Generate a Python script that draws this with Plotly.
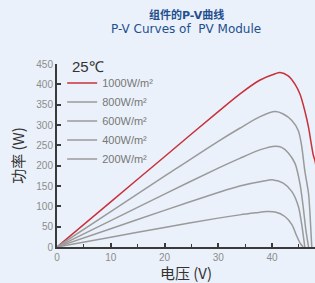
import plotly.graph_objects as go

# Data (Voltage V, Power W)
v_1000 = [0, 10, 20, 30, 34, 37.7, 40.6, 41.5, 43.0, 44.3, 45.2, 46.1, 46.8, 47.3, 47.7, 48.0, 48.5]
p_1000 = [0, 111, 222, 333, 376, 410, 426, 429, 421, 400, 376, 335, 294, 254, 225, 212, 170]

v_800 = [0, 10, 20, 30, 34, 37.7, 40.6, 42.1, 43.7, 44.9, 45.5, 46.1, 46.8, 47.1, 47.4]
p_800 = [0, 87, 174, 260, 292, 320, 333, 327, 311, 286, 250, 188, 131, 74, 0]

v_600 = [0, 10, 20, 30, 34, 38, 40.6, 41.8, 43.0, 44.3, 45.2, 45.8, 46.3, 46.8]
p_600 = [0, 65, 130, 194, 218, 240, 248, 245, 232, 205, 156, 99, 42, 0]

v_400 = [0, 10, 20, 30, 34, 38, 40.2, 42.1, 43.7, 44.9, 45.5, 46.1]
p_400 = [0, 45, 90, 134, 150, 161, 165, 157, 136, 100, 58, 0]

v_200 = [0, 10, 20, 30, 34, 37, 39, 40.6, 42.4, 43.7, 44.6, 45.3, 45.8]
p_200 = [0, 24, 48, 71, 79, 84, 87, 86, 75, 55, 27, 8, 0]

series_names = ["1000W/m²", "800W/m²", "600W/m²", "400W/m²", "200W/m²"]
series_v = [v_1000, v_800, v_600, v_400, v_200]
series_p = [p_1000, p_800, p_600, p_400, p_200]
series_colors = ["#c8303a", "#9a9a9a", "#9a9a9a", "#9a9a9a", "#9a9a9a"]

x_ticks = [0, 10, 20, 30, 40]
y_ticks = [0, 50, 100, 150, 200, 250, 300, 350, 400, 450]

title_cn = "组件的P-V曲线"
title_en = "P-V Curves of\u00a0 PV Module"
legend_title = "25℃"

bg = "#eaf1fa"
axis_col = "#3a3a3a"
tick_font_col = "#8c8c8c"

fig = go.Figure()
for name, vx, py, col in zip(series_names, series_v, series_p, series_colors):
    fig.add_trace(go.Scatter(
        x=vx, y=py, mode="lines", name=name,
        line=dict(color=col, width=1.5, shape="spline", smoothing=0.8),
    ))

fig.add_annotation(text=title_cn, xref="paper", yref="paper", x=0.5, y=1.268,
                   xanchor="center", yanchor="middle", showarrow=False,
                   font=dict(family="DejaVu Sans, Noto Sans CJK SC, sans-serif", size=11, color="#234f8f", weight="bold"))
fig.add_annotation(text=title_en, xref="paper", yref="paper", x=0.5, y=1.19,
                   xanchor="center", yanchor="middle", showarrow=False,
                   font=dict(family="DejaVu Sans, sans-serif", size=12, color="#234f8f"))
fig.add_annotation(text=legend_title, xref="paper", yref="paper", x=0.05, y=0.984,
                   xanchor="left", yanchor="middle", showarrow=False,
                   font=dict(family="Liberation Sans, Arial, sans-serif", size=15, color="#333"))

fig.update_layout(
    width=315, height=283,
    margin=dict(l=57, r=0, t=64, b=36, autoexpand=False),
    paper_bgcolor=bg, plot_bgcolor=bg,
    font=dict(family="Liberation Sans, Arial, sans-serif", color="#333"),
    showlegend=True,
    legend=dict(
        font=dict(size=11, color="#777"),
        x=0.02, xanchor="left", y=0.975, yanchor="top",
        bgcolor="rgba(0,0,0,0)", itemwidth=30,
        tracegroupgap=0,
    ),
    xaxis=dict(
        range=[0, 48], tickvals=x_ticks, showgrid=False, zeroline=False,
        showline=True, linecolor=axis_col, linewidth=2,
        ticks="inside", ticklen=4, tickwidth=1.5, tickcolor=axis_col,
        minor=dict(dtick=5, tick0=0, ticks="inside", ticklen=3, tickwidth=1, tickcolor=axis_col, showgrid=False),
        tickfont=dict(size=10, color=tick_font_col),
        title=dict(text="电压 (V)", font=dict(size=15, color="#333", family="Noto Sans CJK SC, sans-serif"), standoff=2),
        fixedrange=True, automargin=False,
    ),
    yaxis=dict(
        range=[0, 450], tickvals=y_ticks, showgrid=False, zeroline=False,
        showline=True, linecolor=axis_col, linewidth=2,
        ticks="inside", ticklen=4, tickwidth=1.5, tickcolor=axis_col,
        tickfont=dict(size=10, color=tick_font_col),
        title=dict(text="功率 (W)", font=dict(size=15, color="#333", family="Noto Sans CJK SC, sans-serif"), standoff=8),
        fixedrange=True, automargin=False,
    ),
)

fig.write_html("out.html", config={"displayModeBar": False},
               post_script="document.body.style.margin='0';document.body.style.padding='0';")
